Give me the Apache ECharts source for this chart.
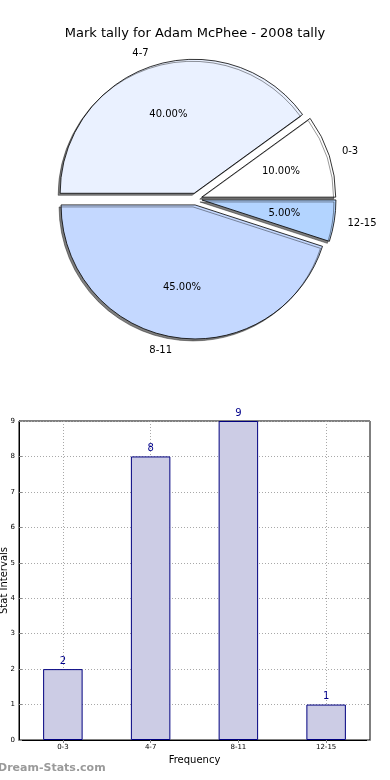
<!DOCTYPE html>
<html>
<head>
<meta charset="utf-8">
<script src="https://cdn.jsdelivr.net/npm/echarts@6/dist/echarts.min.js"></script>
<style>
html,body{margin:0;padding:0;background:#fff;}
#chart{width:390px;height:780px;}
</style>
</head>
<body>
<div id="chart"></div>
<script>
// ---- data ----
const titleText = 'Mark tally for Adam McPhee - 2008 tally';
const categories = ['0-3', '4-7', '8-11', '12-15'];
const frequencies = [2, 8, 9, 1];
const sliceColors = ['#ffffff', '#eaf1ff', '#c4d8ff', '#b3d4ff'];
const yTicks = [0, 1, 2, 3, 4, 5, 6, 7, 8, 9];
const xAxisName = 'Frequency';
const yAxisName = 'Stat Intervals';
const watermark = 'Dream-Stats.com';

const FONT = 'DejaVu Sans';
const R = 134;
const CENTER = [196, 199];
const EXPLODE = 6;

const pieData = categories.map((c, i) => ({
  name: c,
  value: frequencies[i],
  selected: true,
  itemStyle: { color: sliceColors[i] }
}));
const pieLabelData = categories.map((c, i) => ({
  name: c,
  value: frequencies[i],
  selected: true
}));

const chart = echarts.init(document.getElementById('chart'), null, { renderer: 'canvas' });
chart.setOption({
  animation: false,
  title: {
    text: titleText,
    left: 'center',
    top: 22,
    textStyle: { fontFamily: FONT, fontSize: 13, fontWeight: 'normal', color: '#000' }
  },
  grid: {
    left: 19, right: 20, top: 421, bottom: 40,
    containLabel: false,
    outerBoundsMode: 'none',
    show: true, borderColor: '#000', borderWidth: 1, backgroundColor: 'transparent'
  },
  xAxis: [{
    type: 'category',
    data: categories,
    position: 'bottom',
    name: xAxisName,
    nameLocation: 'middle',
    nameGap: 15,
    nameMoveOverlap: false,
    nameTextStyle: { fontFamily: FONT, fontSize: 10, color: '#000' },
    axisLine: { show: true, lineStyle: { color: '#000', width: 1 } },
    axisTick: { show: true, inside: true, alignWithLabel: true, length: 3, lineStyle: { color: '#888' } },
    axisLabel: { fontFamily: FONT, fontSize: 7, color: '#000', margin: 4 },
    splitLine: { show: true, alignWithLabel: true, lineStyle: { color: '#a8a8a8', type: [1, 2], width: 1 } }
  }, {
    type: 'category',
    data: categories,
    position: 'top',
    axisLine: { show: false },
    axisTick: { show: true, inside: true, alignWithLabel: true, length: 3, lineStyle: { color: '#888' } },
    axisLabel: { show: false },
    splitLine: { show: false }
  }],
  yAxis: [{
    type: 'value',
    min: yTicks[0],
    max: yTicks[yTicks.length - 1],
    interval: 1,
    position: 'left',
    name: yAxisName,
    nameLocation: 'middle',
    nameRotate: 90,
    nameGap: 10,
    nameMoveOverlap: false,
    nameTextStyle: { fontFamily: FONT, fontSize: 10, color: '#000' },
    axisLine: { show: true, lineStyle: { color: '#000', width: 1 } },
    axisTick: { show: true, inside: true, length: 3, lineStyle: { color: '#888' } },
    axisLabel: { fontFamily: FONT, fontSize: 7, color: '#000', margin: 4 },
    splitLine: { show: true, lineStyle: { color: '#a8a8a8', type: [1, 2], width: 1 } }
  }, {
    type: 'value',
    min: yTicks[0],
    max: yTicks[yTicks.length - 1],
    interval: 1,
    position: 'right',
    axisLine: { show: false },
    axisTick: { show: true, inside: true, length: 3, lineStyle: { color: '#888' } },
    axisLabel: { show: false },
    splitLine: { show: false }
  }],
  series: [{
    type: 'pie',
    center: CENTER,
    radius: [0, R],
    startAngle: 0,
    clockwise: false,
    avoidLabelOverlap: false,
    selectedMode: 'multiple',
    selectedOffset: EXPLODE,
    itemStyle: {
      borderColor: '#000', borderWidth: 0.8,
      shadowColor: 'rgba(0,0,0,0.5)', shadowBlur: 0, shadowOffsetX: -2, shadowOffsetY: 2
    },
    label: {
      show: true, position: 'outside', fontFamily: FONT, fontSize: 10, color: '#000',
      distanceToLabelLine: 0
    },
    labelLine: { show: false, length: R * 0.1, length2: 0 },
    emphasis: { disabled: true },
    select: { itemStyle: { borderColor: '#000', borderWidth: 0.8 } },
    data: pieData,
    z: 2
  }, {
    type: 'pie',
    center: CENTER,
    radius: [0, R * 1.2],
    startAngle: 0,
    clockwise: false,
    avoidLabelOverlap: false,
    selectedMode: 'multiple',
    selectedOffset: EXPLODE,
    silent: true,
    itemStyle: { color: 'rgba(0,0,0,0)', borderWidth: 0 },
    select: { itemStyle: { color: 'rgba(0,0,0,0)', borderWidth: 0 } },
    label: {
      show: true, position: 'inside', fontFamily: FONT, fontSize: 10, color: '#000',
      formatter: p => p.percent.toFixed(2) + '%'
    },
    labelLine: { show: false },
    emphasis: { disabled: true },
    data: pieLabelData,
    z: 3
  }, {
    type: 'bar',
    xAxisIndex: 0,
    yAxisIndex: 0,
    data: frequencies,
    barWidth: '45%',
    itemStyle: { color: '#ccccE5', borderColor: '#000080', borderWidth: 1 },
    label: { show: true, position: 'top', distance: 3, fontFamily: FONT, fontSize: 10, color: '#00008b' },
    emphasis: { disabled: true }
  }],
  graphic: [{
    type: 'text',
    left: -2,
    top: 763,
    style: { text: watermark, fontFamily: FONT, fontSize: 11, fontWeight: 'bold', fill: '#9a9a9a' }
  }]
});
</script>
</body>
</html>
